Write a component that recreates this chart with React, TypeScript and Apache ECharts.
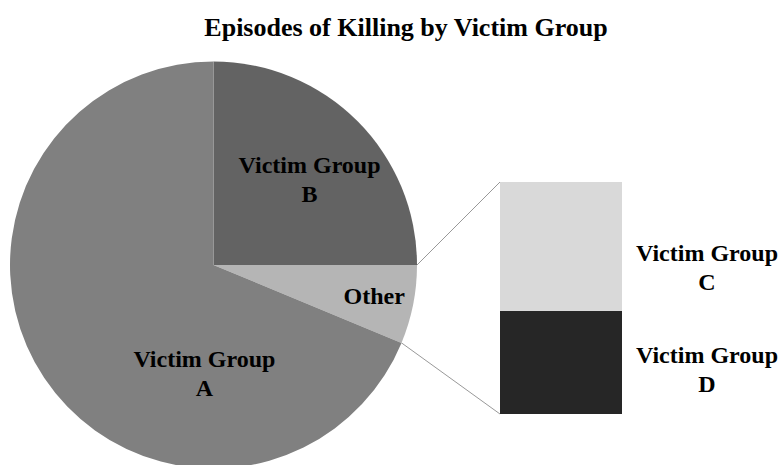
import React, { useEffect, useRef } from "react";
import * as echarts from "echarts";

const title = "Episodes of Killing by Victim Group";
const pieNames = ["Victim Group\nB", "Other", "Victim Group\nA"];
const pieValues = [36, null, 99]; // Other = sum of C and D
const barNames = ["Victim Group\nD", "Victim Group\nC"];
const barValues = [4, 5];
const pieColors = ["#636363", "#b5b5b5", "#808080"];
const barColors = ["#262626", "#d9d9d9"];

const FONT = "'Liberation Serif', 'Times New Roman', serif";

export default function App() {
  const ref = useRef<HTMLDivElement>(null);
  useEffect(() => {
    if (!ref.current) return;
    const chart = echarts.init(ref.current, undefined, { renderer: "svg" });
    const otherVal = barValues.reduce((a, b) => a + b, 0);
    const vals = pieValues.map((v) => (v == null ? otherVal : v));
    const total = vals.reduce((a, b) => a + b, 0);

    const cx = 213.5, cy = 265, R = 203.5;
    const gridLeft = 500, gridTop = 182, gridW = 122, gridH = 232;
    const startDeg = 90 - (360 * vals[0]) / total;
    const endDeg = startDeg - (360 * vals[1]) / total;
    const p1 = [cx + R * Math.cos((startDeg * Math.PI) / 180), cy - R * Math.sin((startDeg * Math.PI) / 180)];
    const p2 = [cx + R * Math.cos((endDeg * Math.PI) / 180), cy - R * Math.sin((endDeg * Math.PI) / 180)];

    const labelStyle = {
      fontFamily: FONT,
      fontWeight: "bold" as const,
      fontSize: 24,
      lineHeight: 29,
      color: "#000",
      align: "center" as const,
    };
    const pieOffsets = [[22, -11], [58, 11], [78, 50]];
    const barOffsets = [[146, 7.5], [146, 21.5]];

    chart.setOption({
      animation: false,
      title: {
        text: title,
        left: 406,
        top: 14,
        padding: 0,
        textAlign: "center",
        textStyle: { fontFamily: FONT, fontWeight: "bold", fontSize: 26, color: "#000" },
      },
      grid: { left: gridLeft, top: gridTop, width: gridW, height: gridH },
      xAxis: { type: "category", data: ["Other"], show: false },
      yAxis: { type: "value", min: 0, max: otherVal, show: false },
      series: [
        {
          type: "pie",
          center: [cx, cy],
          radius: R,
          startAngle: 90,
          clockwise: true,
          avoidLabelOverlap: false,
          emphasis: { disabled: true },
          labelLine: { show: false },
          itemStyle: { borderWidth: 0 },
          label: { show: true, position: "inside", ...labelStyle },
          data: vals.map((v, i) => ({
            name: pieNames[i],
            value: v,
            itemStyle: { color: pieColors[i] },
            label: { offset: pieOffsets[i] },
          })),
        },
        ...barValues.map((v, i) => ({
          type: "bar",
          stack: "other",
          barWidth: "100%",
          name: barNames[i],
          emphasis: { disabled: true },
          itemStyle: { color: barColors[i] },
          label: {
            show: true,
            position: "inside",
            formatter: barNames[i],
            offset: barOffsets[i],
            ...labelStyle,
          },
          data: [v],
        })),
      ],
      graphic: [
        {
          type: "line",
          shape: { x1: p1[0], y1: p1[1], x2: gridLeft, y2: gridTop },
          style: { stroke: "#999", lineWidth: 1 },
          silent: true,
        },
        {
          type: "line",
          shape: { x1: p2[0], y1: p2[1], x2: gridLeft, y2: gridTop + gridH },
          style: { stroke: "#999", lineWidth: 1 },
          silent: true,
        },
      ],
    });
    return () => chart.dispose();
  }, []);
  return (
    <div
      ref={ref}
      style={{ position: "fixed", left: 0, top: 0, width: 782, height: 465, background: "#fff" }}
    />
  );
}
